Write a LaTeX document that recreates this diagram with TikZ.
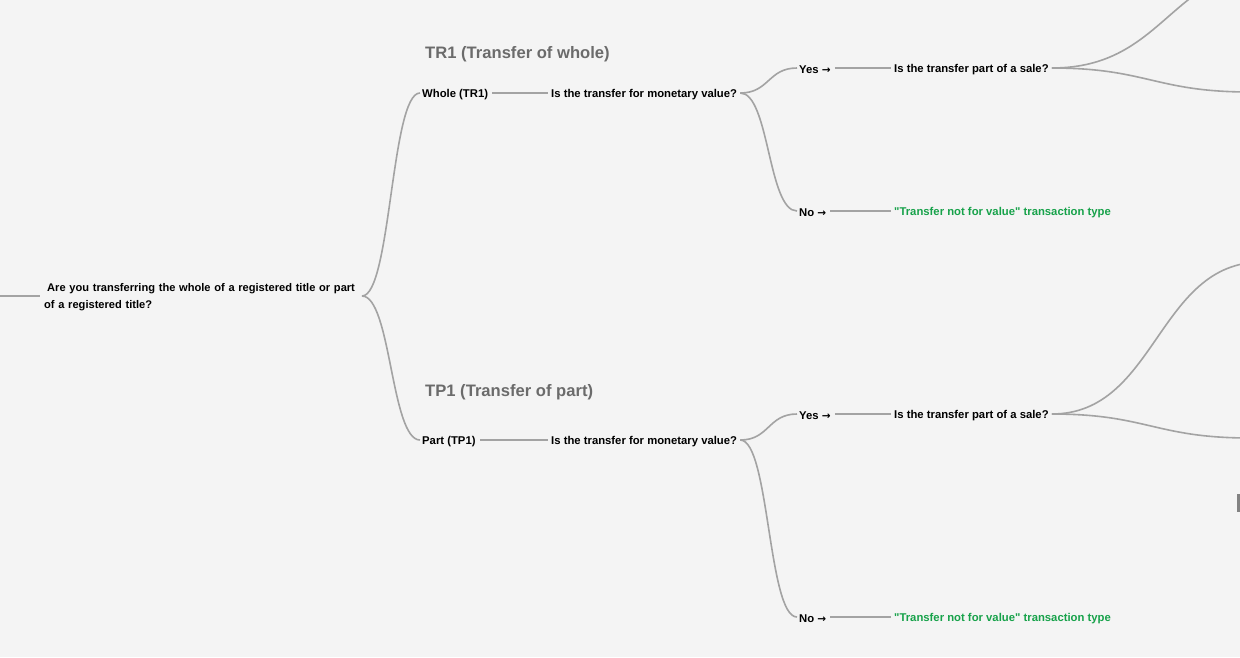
\documentclass[tikz,border=0pt]{standalone}
\usepackage{fontspec}
\setmainfont{Liberation Sans}
\newfontfamily\arrowfont{DejaVu Sans}
\newcommand{\rarr}{{\arrowfont\fontsize{10.5}{12}\selectfont →}}
\definecolor{bg}{HTML}{F4F4F4}
\definecolor{edge}{HTML}{A3A3A3}
\definecolor{ttl}{HTML}{6B6B6B}
\definecolor{okgreen}{HTML}{17A24A}
\begin{document}
\begin{tikzpicture}[x=1pt,y=-1pt,
  lbl/.style={anchor=west,inner sep=0pt,yshift=-1.2pt,font=\fontsize{11.3}{16.5}\selectfont\bfseries,text=black},
  grn/.style={lbl,text=okgreen},
  ttlstyle/.style={anchor=west,inner sep=0pt,yshift=-1.5pt,font=\fontsize{16.6}{20}\selectfont\bfseries,text=ttl},
  link/.style={draw=edge,line width=1.6pt},
  curve/.style={link}]
\useasboundingbox (0,0) rectangle (1240,657);
\fill[bg] (0,0) rectangle (1240,657);
% root
\coordinate (lin) at (0,296);
\node[lbl,align=left,text width=330pt,font=\fontsize{11.1}{16.5}\selectfont\bfseries] (root) at (44,296) {\hspace*{3pt}Are you transferring the whole of a registered title or part\\of a registered title?};
\draw[link] (lin) -- (40,296);
% titles
\node[ttlstyle] (t1) at (425,53) {TR1 (Transfer of whole)};
\node[ttlstyle] (t2) at (425,391) {TP1 (Transfer of part)};
% level 1
\node[lbl] (whole) at (422,93) {Whole (TR1)};
\node[lbl] (part) at (422,440) {Part (TP1)};
\coordinate (rj) at (362,296);
\draw[curve] (rj) .. controls +(29,0) and +(-29,0) .. ([xshift=-2pt,yshift=1.2pt]whole.west);
\draw[curve] (rj) .. controls +(29,0) and +(-29,0) .. ([xshift=-2pt,yshift=1.2pt]part.west);
% questions
\node[lbl] (q1) at (551,93) {Is the transfer for monetary value?};
\node[lbl] (q2) at (551,440) {Is the transfer for monetary value?};
\draw[link] ([xshift=4pt,yshift=1.2pt]whole.east) -- ([xshift=-3pt,yshift=1.2pt]q1.west);
\draw[link] ([xshift=4pt,yshift=1.2pt]part.east) -- ([xshift=-3pt,yshift=1.2pt]q2.west);
% yes / no
\node[lbl] (y1) at (799,68) {Yes \rarr};
\node[lbl] (n1) at (799,211) {No \rarr};
\node[lbl] (y2) at (799,414) {Yes \rarr};
\node[lbl] (n2) at (799,617) {No \rarr};
\draw[curve] ([xshift=3pt,yshift=1.2pt]q1.east) .. controls +(29,0) and +(-29,0) .. ([xshift=-2pt,yshift=1.2pt]y1.west);
\draw[curve] ([xshift=3pt,yshift=1.2pt]q1.east) .. controls +(29,0) and +(-29,0) .. ([xshift=-2pt,yshift=1.2pt]n1.west);
\draw[curve] ([xshift=3pt,yshift=1.2pt]q2.east) .. controls +(29,0) and +(-29,0) .. ([xshift=-2pt,yshift=1.2pt]y2.west);
\draw[curve] ([xshift=3pt,yshift=1.2pt]q2.east) .. controls +(29,0) and +(-29,0) .. ([xshift=-2pt,yshift=1.2pt]n2.west);
% sale questions
\node[lbl] (s1) at (894,68) {Is the transfer part of a sale?};
\node[lbl] (s2) at (894,414) {Is the transfer part of a sale?};
\draw[link] ([xshift=4pt,yshift=1.2pt]y1.east) -- ([xshift=-3pt,yshift=1.2pt]s1.west);
\draw[link] ([xshift=4pt,yshift=1.2pt]y2.east) -- ([xshift=-3pt,yshift=1.2pt]s2.west);
% not for value
\node[grn] (g1) at (894,211) {\textquotedbl Transfer not for value\textquotedbl{} transaction type};
\node[grn] (g2) at (894,617) {\textquotedbl Transfer not for value\textquotedbl{} transaction type};
\draw[link] ([xshift=4pt,yshift=1.2pt]n1.east) -- ([xshift=-3pt,yshift=1.2pt]g1.west);
\draw[link] ([xshift=4pt,yshift=1.2pt]n2.east) -- ([xshift=-3pt,yshift=1.2pt]g2.west);
% off-canvas branches
\coordinate (o1) at (1285,-35);
\coordinate (o2) at (1250,92);
\coordinate (o3) at (1262,262);
\coordinate (o4) at (1250,438);
\draw[curve] ([xshift=3pt,yshift=1.2pt]s1.east) .. controls +(115,0) and +(-115,0) .. (o1);
\draw[curve] ([xshift=3pt,yshift=1.2pt]s1.east) .. controls +(95,0) and +(-95,0) .. (o2);
\draw[curve] ([xshift=3pt,yshift=1.2pt]s2.east) .. controls +(105,0) and +(-105,0) .. (o3);
\draw[curve] ([xshift=3pt,yshift=1.2pt]s2.east) .. controls +(95,0) and +(-95,0) .. (o4);
% small bar at right edge
\fill[edge!80!black] (1236.5,494) rectangle (1239.5,512);
\end{tikzpicture}
\end{document}
